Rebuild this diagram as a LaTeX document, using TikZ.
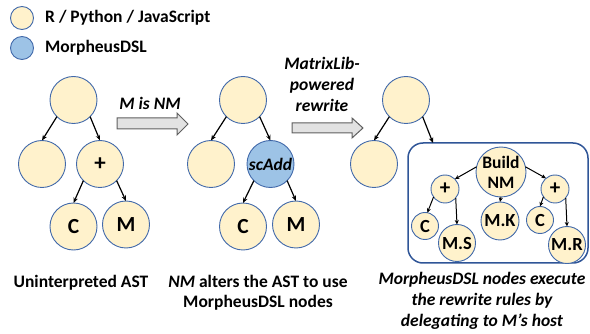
\documentclass[tikz,border=0pt]{standalone}
\usepackage{fontspec}
\setmainfont{Carlito}
\usetikzlibrary{arrows.meta,calc}
\definecolor{cream}{RGB}{255,242,204}
\definecolor{lblue}{RGB}{157,195,230}
\definecolor{edgeblue}{RGB}{65,105,170}
\definecolor{boxblue}{RGB}{47,85,151}
\definecolor{arrfill}{RGB}{226,226,226}
\definecolor{arrdraw}{RGB}{95,95,95}
\begin{document}
\begin{tikzpicture}[x=1pt,y=-1pt,
  host/.style={circle,draw=edgeblue,fill=cream,line width=0.9pt,inner sep=0pt,outer sep=0pt,minimum size=#1,align=center,font=\bfseries\fontsize{17.5}{20}\selectfont},
  host/.default=47,
  dsl/.style={host=#1,fill=lblue},
  dsl/.default=47,
  big/.style={font=\bfseries\fontsize{21.5}{24}\selectfont},
  mid/.style={font=\bfseries\fontsize{18.5}{20}\selectfont},
  plusbig/.style={font=\bfseries\fontsize{23}{24}\selectfont},
  plusmid/.style={font=\bfseries\fontsize{21}{22}\selectfont},
  edge/.style={draw=black,line width=1.2pt,-{Stealth[length=5.5pt,width=4.5pt]}},
  sedge/.style={draw=black,line width=1pt,-{Stealth[length=4.5pt,width=4pt]}},
  lbl/.style={font=\bfseries\fontsize{17.5}{20}\selectfont,align=center,inner sep=0pt},
  ilbl/.style={font=\bfseries\itshape\fontsize{17.5}{21}\selectfont,align=center,inner sep=0pt},
  block/.style={fill=arrfill,draw=arrdraw,line width=1pt},
]
\useasboundingbox (0,0) rectangle (590,334);

% legend
\node[host=23] (lg1) at (22,18) {};
\node[lbl,anchor=west] (lt1) at (45,18) {R / Python / JavaScript};
\node[dsl=23] (lg2) at (22,48) {};
\node[lbl,anchor=west] (lt2) at (45,48) {MorpheusDSL};

% tree 1
\node[host] (a0) at (73.5,100) {};
\node[host] (a1) at (42,164) {};
\node[host,plusbig] (a2) at (100,164) {+};
\node[host,big] (a3) at (73.5,226.5) {C};
\node[host,big] (a4) at (126,224.5) {M};
\draw[edge] (a0.-135) -- (a1.north);
\draw[edge] (a0.-45) -- (a2.north);
\draw[edge] (a2.-135) -- (a3.north);
\draw[edge] (a2.-45) -- (a4.north);

% block arrow 1
\draw[block] (117,118) -- (177,118) -- (177,113) -- (188,124) -- (177,135) -- (177,129) -- (117,129) -- cycle;
\node[ilbl] (l1) at (150,103) {M is NM};

% tree 2
\node[host] (b0) at (243,100) {};
\node[host] (b1) at (211,164) {};
\node[dsl] (b2) at (270.5,164) {\itshape scAdd};
\node[host,big] (b3) at (243,226.5) {C};
\node[host,big] (b4) at (296,224.5) {M};
\draw[edge] (b0.-135) -- (b1.north);
\draw[edge] (b0.-45) -- (b2.north);
\draw[edge] (b2.-135) -- (b3.north);
\draw[edge] (b2.-45) -- (b4.north);

% block arrow 2
\draw[block] (292,123) -- (352,123) -- (352,118) -- (363,128) -- (352,138) -- (352,133) -- (292,133) -- cycle;
\node[ilbl] (l2) at (322,84) {MatrixLib-\\powered\\rewrite};

% tree 3
\node[host] (c0) at (406,100) {};
\node[host] (c1) at (374,164) {};
\node[draw=boxblue,line width=1.5pt,rounded corners=15pt,minimum width=180pt,minimum height=120pt,inner sep=0pt,outer sep=0pt] (box) at (498,203) {};
\draw[edge] (c0.-135) -- (c1.north);
\draw[edge] (c0.-45) -- ($(box.north west)+(25,0)$);

\node[host=50] (d0) at (501,172) {Build\\NM};
\node[host=28,plusmid] (d1) at (445,189) {+};
\node[host=28,plusmid] (d2) at (555,189) {+};
\node[host=27,mid] (d3) at (425,226) {C};
\node[host=37,mid] (d4) at (457,243) {M.S};
\node[host=38,mid] (d5) at (500,221) {M.K};
\node[host=27,mid] (d6) at (540,220) {C};
\node[host=37,mid] (d7) at (567,245) {M.R};
\draw[sedge] (d0.168) -- (d1.45);
\draw[sedge] (d0.12) -- (d2.130);
\draw[sedge] (d0.south) -- (d5.north);
\draw[sedge] (d1.-145) -- (d3.80);
\draw[sedge] (d1.-40) -- (d4.north);
\draw[sedge] (d2.-146) -- (d6.north);
\draw[sedge] (d2.-40) -- (d7.north);

% captions
\node[lbl] (cap1) at (81,283) {Uninterpreted AST};
\node[lbl] (cap2) at (258,293) {\textit{NM} alters the AST to use\\MorpheusDSL nodes};
\node[ilbl] (cap3) at (482,301) {MorpheusDSL nodes execute\\the rewrite rules by\\delegating to M’s host};
\end{tikzpicture}
\end{document}
